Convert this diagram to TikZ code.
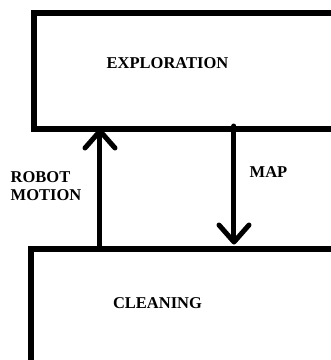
\documentclass[tikz,border=0pt]{standalone}
\usepackage{fontspec}
\setmainfont{Liberation Serif}
\usetikzlibrary{arrows.meta}
\begin{document}
\begin{tikzpicture}[x=1pt,y=-1pt,
  boxline/.style={draw=black,line width=6pt},
  flow/.style={draw=black,line width=5pt,line cap=round,
    -{Straight Barb[length=17pt,width=30pt,round]}},
  lbl/.style={font=\bfseries\fontsize{16.5}{18}\selectfont,inner sep=0pt}]
\fill[white] (0,0) rectangle (331,360);
\useasboundingbox (0,0) rectangle (331,360);
\clip (0,0) rectangle (331,360);
\node[boxline,rectangle,minimum width=320pt,minimum height=116pt,anchor=north west,inner sep=0pt] (expl) at (31,10) {};
\node[boxline,rectangle,minimum width=320pt,minimum height=130pt,anchor=north west,inner sep=0pt] (clean) at (28.5,245.5) {};
\node[lbl] (tE) at (167.5,63.5) {EXPLORATION};
\node[lbl] (tC) at (157.5,303) {CLEANING};
\node[lbl,align=left,anchor=west] (tR) at (10.5,186) {ROBOT\\MOTION};
\node[lbl,anchor=west] (tM) at (249.5,172) {MAP};
\coordinate (upS) at (100,245.5);
\coordinate (upE) at (100,128.5);
\coordinate (dnS) at (234,126);
\coordinate (dnE) at (234,244.5);
\draw[flow] (upS) -- (upE);
\draw[flow] (dnS) -- (dnE);
\end{tikzpicture}
\end{document}
